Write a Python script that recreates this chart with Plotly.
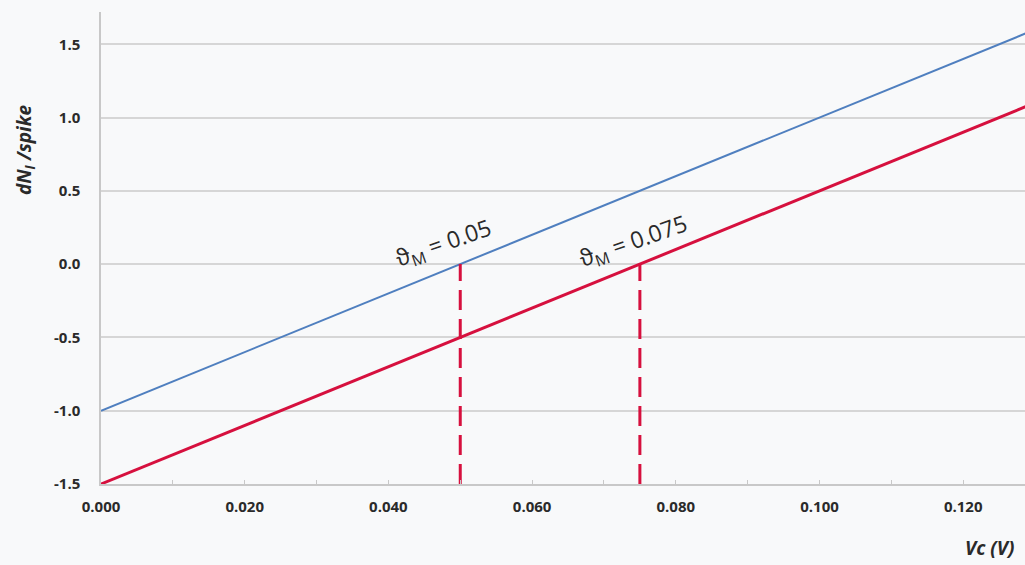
import plotly.graph_objects as go

# Control voltage (V) and spike response for the two threshold settings
vc = [0.0, 0.13]
dn_theta_005 = [-1.0, 1.6]
dn_theta_0075 = [-1.5, 1.1]

# Threshold markers where each response crosses zero
thresholds = [0.05, 0.075]
threshold_labels = ["ϑ<sub>M</sub> = 0.05", "ϑ<sub>M</sub> = 0.075"]
drop_bottom = -1.5
drop_top = 0.0

x_ticks = [0.0, 0.02, 0.04, 0.06, 0.08, 0.10, 0.12]
x_tick_text = ["0.000", "0.020", "0.040", "0.060", "0.080", "0.100", "0.120"]
y_ticks = [-1.5, -1.0, -0.5, 0.0, 0.5, 1.0, 1.5]
y_tick_text = ["-1.5", "-1.0", "-0.5", "0.0", "0.5", "1.0", "1.5"]

BLUE = "#4f7fbf"
RED = "#d6103e"
FONT = "Open Sans"
INK = "#2a2a2a"

fig = go.Figure()

fig.add_trace(go.Scatter(x=vc, y=dn_theta_005, mode="lines",
                         line=dict(color=BLUE, width=2), showlegend=False))
fig.add_trace(go.Scatter(x=vc, y=dn_theta_0075, mode="lines",
                         line=dict(color=RED, width=3), showlegend=False))

for t in thresholds:
    fig.add_trace(go.Scatter(x=[t, t], y=[drop_bottom, drop_top], mode="lines",
                             line=dict(color=RED, width=3, dash="20px,9px"),
                             showlegend=False))

# Rotated threshold labels, sitting just above the zero crossings
label_pos = [(0.0477, 0.14), (0.0741, 0.157)]
for (lx, ly), txt in zip(label_pos, threshold_labels):
    fig.add_annotation(x=lx, y=ly, text=txt, showarrow=False, textangle=-19,
                       xanchor="center", yanchor="middle",
                       font=dict(family=FONT, size=23, color=INK))

fig.add_annotation(xref="paper", yref="paper", x=-0.082, y=0.708,
                   text="<b><i>dN<sub>I</sub> /spike</i></b>", showarrow=False,
                   textangle=-90, xanchor="center", yanchor="middle",
                   font=dict(family=FONT, size=19, color=INK))
fig.add_annotation(xref="paper", yref="paper", x=0.99, y=-0.1356,
                   text="<b><i>Vc (V)</i></b>", showarrow=False,
                   xanchor="right", yanchor="middle",
                   font=dict(family=FONT, size=19, color=INK))

fig.update_layout(
    width=1025, height=565,
    margin=dict(l=101, r=0, t=12, b=81),
    paper_bgcolor="#f8f9fa", plot_bgcolor="#f8f9fa",
    font=dict(family=FONT, color=INK),
    xaxis=dict(range=[0, 0.1286], tickvals=x_ticks,
               ticktext=[f"<b>{s}</b>" for s in x_tick_text],
               showgrid=False, zeroline=False, showline=True,
               linecolor="#c8c8c8", linewidth=1.5,
               ticks="inside", ticklen=4, tickcolor="#c8c8c8",
               minor=dict(dtick=0.01, ticks="inside", ticklen=4, tickcolor="#c8c8c8"),
               tickfont=dict(family=FONT, size=15, color=INK),
               ticklabelstandoff=8),
    yaxis=dict(range=[-1.5, 1.72], tickvals=y_ticks,
               ticktext=[f"<b>{s}</b>" for s in y_tick_text],
               showgrid=True, gridcolor="#d6d6d6", gridwidth=1.5,
               zeroline=False, showline=True, linecolor="#c8c8c8", linewidth=1.5,
               ticks="", tickfont=dict(family=FONT, size=15, color=INK),
               ticklabelstandoff=16),
)

fig.write_html("out.html")
